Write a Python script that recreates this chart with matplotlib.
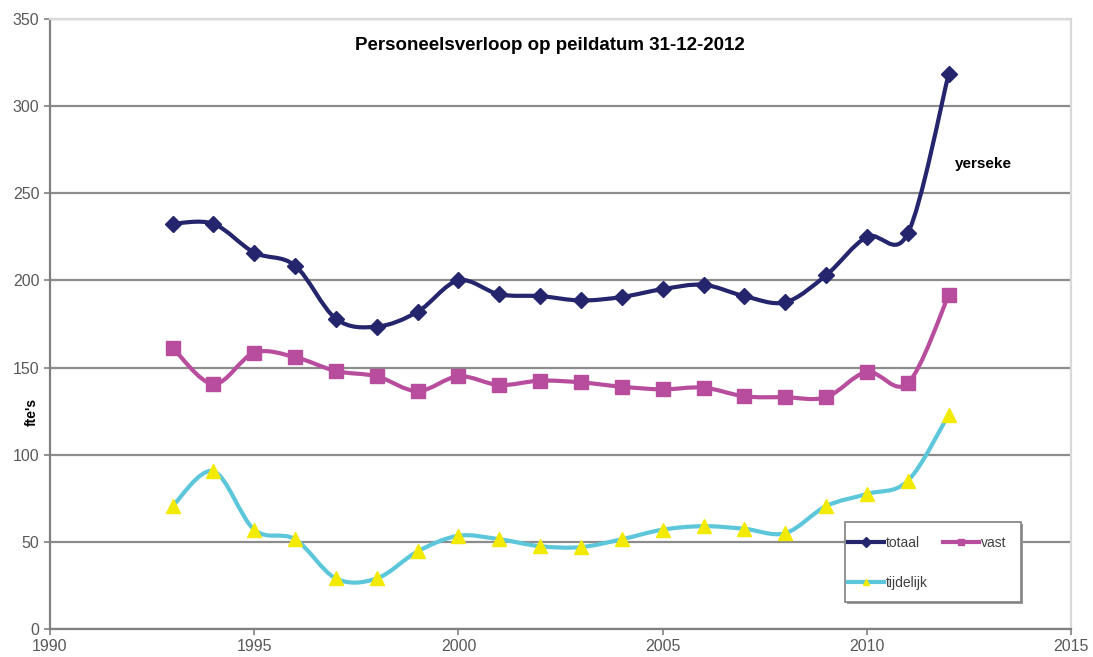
import numpy as np
import matplotlib
matplotlib.use("Agg")
import matplotlib.pyplot as plt
from matplotlib.path import Path
from matplotlib.patches import PathPatch, Rectangle
from matplotlib.lines import Line2D

plt.rcParams['font.family'] = ['Liberation Sans', 'DejaVu Sans']

# data
years = [1993, 1994, 1995, 1996, 1997, 1998, 1999, 2000, 2001, 2002,
         2003, 2004, 2005, 2006, 2007, 2008, 2009, 2010, 2011, 2012]
totaal = [232.5, 232.5, 216, 208.5, 178, 173.5, 182, 200, 192, 191,
          188.5, 190.5, 195, 197.5, 191, 187.5, 203, 225, 227, 318.5]
vast = [161.5, 140.5, 158.5, 156, 148, 145, 136.5, 145, 140, 142.5,
        141.5, 139, 137.5, 138.5, 133.5, 133, 133, 147.5, 141, 191.5]
tijdelijk = [70.5, 90.5, 57, 51.5, 29, 29, 44.5, 53.5, 51.5, 47.5,
             47, 51.5, 57, 59, 57.5, 55, 70.5, 77.5, 85, 123]

title = "Personeelsverloop op peildatum 31-12-2012"
ylabel = "fte's"
note = "yerseke"


def smooth_path(x, y):
    # Excel style smoothed line (Catmull-Rom as cubic Bezier)
    pts = np.column_stack([x, y]).astype(float)
    n = len(pts)
    verts = [pts[0]]
    codes = [Path.MOVETO]
    for i in range(n - 1):
        p0 = pts[max(i - 1, 0)]
        p1 = pts[i]
        p2 = pts[i + 1]
        p3 = pts[min(i + 2, n - 1)]
        c1 = p1 + (p2 - p0) / 6.0
        c2 = p2 - (p3 - p1) / 6.0
        verts += [c1, c2, p2]
        codes += [Path.CURVE4] * 3
    return Path(verts, codes)


fig = plt.figure(figsize=(10.93, 6.57), dpi=100)
ax = fig.add_axes([0.0457, 0.0426, 0.9344, 0.9285])

series = [
    (totaal, '#25256e', 'D', '#25256e', '#25256e', 8, 'totaal'),
    (vast, '#b94d9d', 's', '#b94d9d', '#b94d9d', 10, 'vast'),
    (tijdelijk, '#5cc6db', '^', '#f2ea00', '#f2ea00', 10, 'tijdelijk'),
]
handles = {}
for vals, col, mk, mfc, mec, ms, lab in series:
    ax.add_patch(PathPatch(smooth_path(years, vals), facecolor='none',
                           edgecolor=col, lw=3, zorder=3))
    ax.plot(years, vals, ls='none', marker=mk, ms=ms, mfc=mfc, mec=mec,
            zorder=4)
    handles[lab] = Line2D([], [], color=col, lw=3, marker=mk, ms=5,
                          mfc=mfc, mec=mec)

ax.set_xlim(1990, 2015)
ax.set_ylim(0, 350)
ax.set_xticks(range(1990, 2016, 5))
ax.set_yticks(range(0, 351, 50))
ax.yaxis.grid(True, color='#8c8c8c', lw=1.6)
ax.set_axisbelow(True)
ax.tick_params(labelsize=11.5, labelcolor='#595959', color='#808080',
               length=4, width=1.2)
for s in ['left', 'bottom']:
    ax.spines[s].set_color('#808080')
    ax.spines[s].set_linewidth(1.6)
for s in ['top', 'right']:
    ax.spines[s].set_color('#d9d9d9')
    ax.spines[s].set_linewidth(1.6)

ax.set_ylabel(ylabel, fontsize=10, fontweight='bold', labelpad=2)
ax.yaxis.set_label_coords(-0.011, 0.356)
ax.text(0.4897, 0.957, title, transform=ax.transAxes, ha='center',
        va='center', fontsize=13.5, fontweight='bold')
ax.text(2012.15, 267, note, fontsize=11, fontweight='bold', va='center')

# legend box with a small shadow, drawn by hand to match the layout
ax.add_patch(Rectangle((0.7806, 0.0410), 0.1724, 0.1311,
                       transform=ax.transAxes, facecolor='#9a9a9a',
                       edgecolor='none', zorder=5))
ax.add_patch(Rectangle((0.7786, 0.0443), 0.1724, 0.1311,
                       transform=ax.transAxes, facecolor='white',
                       edgecolor='#808080', lw=1.2, zorder=6))
leg = ax.legend([handles['totaal'], handles['tijdelijk'], handles['vast']],
                ['totaal', 'tijdelijk', 'vast'], ncol=2,
                loc='upper left', bbox_to_anchor=(0.7816, 0.153),
                borderaxespad=0, borderpad=0, fontsize=10,
                handlelength=2.6, handletextpad=0.1, labelspacing=1.9,
                columnspacing=1.1, frameon=False)
leg.set_zorder(7)
for t in leg.get_texts():
    t.set_color('#404040')

fig.savefig('out.png', dpi=100)
